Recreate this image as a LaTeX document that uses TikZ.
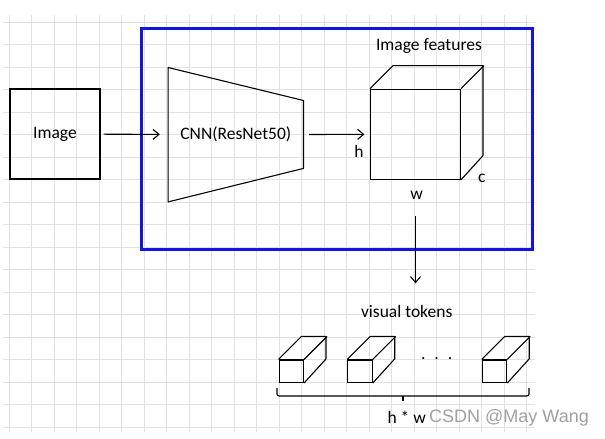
\documentclass[tikz,border=0pt]{standalone}
\usepackage{fontspec}
\setmainfont{Carlito}
\newfontfamily\wmfont{Liberation Sans}
\usetikzlibrary{arrows.meta, positioning, calc}
\definecolor{rahmenblau}{RGB}{20,20,225}
\definecolor{gitter}{RGB}{226,226,226}
\definecolor{wasser}{RGB}{160,160,160}

\begin{document}
\begin{tikzpicture}[
  x=1pt, y=-1pt,
  box/.style={draw, line width=1.1pt, minimum width=90pt, minimum height=90pt,
              inner sep=0pt, font=\fontsize{17.5}{21}\selectfont},
  token/.style={draw, line width=1.1pt, minimum width=24.5pt,
                minimum height=22.5pt, inner sep=0pt},
  lbl/.style={font=\fontsize{17.5}{21}\selectfont, inner sep=0pt},
  arrow/.style={-{Straight Barb[length=6pt,width=10pt]}, line width=1.1pt},
  edge3d/.style={line width=1.1pt, line join=round},
  gitterlinie/.style={draw=gitter, line width=0.8pt}
]
\useasboundingbox (0,0) rectangle (605,439);

% Gitter im Hintergrund
\foreach \i in {0,...,23} \draw[gitterlinie] (9+22.5*\i,15) -- (9+22.5*\i,432);
\foreach \j in {0,...,18} \draw[gitterlinie] (3,22+22.5*\j) -- (535,22+22.5*\j);

% Blaue Umrandung
\draw[rahmenblau, line width=3pt] (141.5,28.5) rectangle (532,249.5);

% Eingabe
\node[box] (img) at (55,134) {Image};

% CNN als Trapez
\node[lbl, minimum width=135pt, minimum height=134pt] (cnn) at (235.8,134.7) {CNN(ResNet50)};
\draw[edge3d] (cnn.north west) -- ($(cnn.north east)+(0,33)$)
  -- ($(cnn.south east)+(0,-33.5)$) -- (cnn.south west) -- cycle;

% Merkmalswuerfel
\node[box] (feat) at (415.5,134.2) {};
\draw[edge3d] (feat.north west) -- ++(23,-23) -- ++(90,0) -- ++(0,90) -- (feat.south east);
\draw[edge3d] (feat.north east) -- ++(23,-23);
\node[lbl] (featlbl) at (429,46) {Image features};
\node[lbl] (hlbl) at (359,151.7) {h};
\node[lbl] (clbl) at (481.7,178.3) {c};
\node[lbl] (wlbl) at (416.7,195) {w};

% Pfeile
\draw[arrow, shorten <=3pt, shorten >=8.3pt] (img) -- (cnn);
\draw[arrow, shorten <=5.7pt, shorten >=5.5pt] (cnn) -- (feat);

% Visual tokens
\node[lbl] (vt) at (406.7,311.7) {visual tokens};
\draw[arrow, shorten <=36.7pt, shorten >=22pt] (feat.south) -- (feat.south |- vt.north);

\node[token] (t1) at (291.3,371.2) {};
\node[token] (t2) at (360,371.2) {};
\node[token] (t3) at (494.5,371.2) {};
\foreach \t in {t1,t2,t3} {
  \draw[edge3d] (\t.north west) -- ++(23,-23) -- ++(24.5,0) -- ++(0,22.5) -- (\t.south east);
  \draw[edge3d] (\t.north east) -- ++(23,-23);
}
\node[lbl] (dots) at (436.7,359) {.\hspace{9pt}.\hspace{9pt}.};

% Klammer
\draw[line width=1.1pt, rounded corners=2pt] (277,388) |- (529,396) -- (529,388);
\draw[line width=1.1pt] (403,396) -- (403,401);
\node[lbl] (hw) at (406.7,417.7) {h * w};
\node[font=\wmfont\fontsize{18}{21}\selectfont, text=wasser, inner sep=0pt] (wm) at (509,418) {CSDN @May Wang};
\end{tikzpicture}
\end{document}
